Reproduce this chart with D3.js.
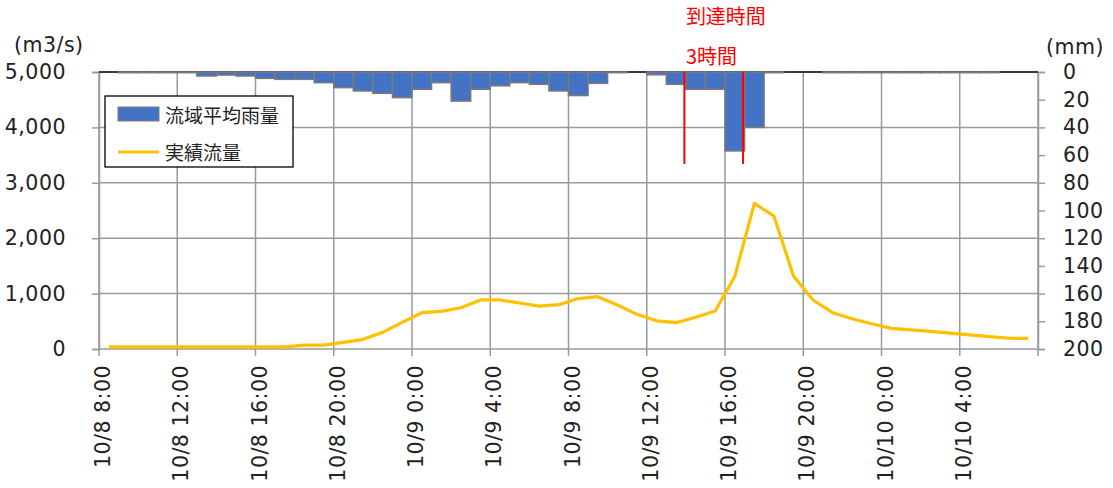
<!DOCTYPE html>
<html><head><meta charset="utf-8">
<script src="https://cdn.jsdelivr.net/npm/d3@7"></script>
<style>
html,body{margin:0;padding:0;background:#fff;}
svg{display:block;}
</style></head>
<body>
<svg id="chart" width="1113" height="488"></svg>
<script>
// ---- data ----
const days = ["10/8","10/8","10/8","10/8","10/8","10/8","10/8","10/8","10/8","10/8","10/8","10/8","10/8","10/8","10/8","10/8",
  "10/9","10/9","10/9","10/9","10/9","10/9","10/9","10/9","10/9","10/9","10/9","10/9","10/9","10/9","10/9","10/9",
  "10/9","10/9","10/9","10/9","10/9","10/9","10/9","10/9","10/10","10/10","10/10","10/10","10/10","10/10","10/10","10/10"];
const hours = [8,9,10,11,12,13,14,15,16,17,18,19,20,21,22,23,0,1,2,3,4,5,6,7,8,9,10,11,12,13,14,15,16,17,18,19,20,21,22,23,0,1,2,3,4,5,6,7];
const categories = days.map((d,i)=> d + " " + hours[i] + ":00");
const rainfall = [0,0.5,0.5,0.5,0.5,2.9,2.2,2.9,4.6,5.3,5.3,7.7,11.3,13.7,15.4,18.5,
  12.5,7.7,21,12.5,10,7.7,8.9,13.7,17,8.2,0.5,0,2,8.9,12.5,12.5,
  57,40,0.5,0,0,0.5,0.5,0.5,0.5,0.5,0.5,0.5,0.5,0.5,0,0];
const flow = [40,40,40,40,40,40,40,40,40,40,70,70,120,175,300,480,
  655,680,745,885,885,830,775,800,910,944,794,626,508,475,572,686,
  1310,2630,2400,1318,885,655,545,455,372,345,318,285,255,225,195,190];
const leftTicks = [0,1000,2000,3000,4000,5000];
const rightTicks = [0,20,40,60,80,100,120,140,160,180,200];
const labelEvery = 4;
const seriesNames = ["流域平均雨量","実績流量"];
const annoTitle = "到達時間";
const annoValue = "3時間";
const annoStart = 30, annoEnd = 33;

// ---- layout ----
const L = 99, R = 1038, T = 72, B = 349;
const svg = d3.select("#chart");
const numFont = "'DejaVu Sans', Verdana, sans-serif";
const jpFont = "'Noto Sans CJK JP', sans-serif";
const numSize = 20.5, numSpacing = 0.5;

const x = d3.scaleBand().domain(categories).range([L, R]).padding(0);
const yL = d3.scaleLinear().domain([0, 5000]).range([B, T]);
const yR = d3.scaleLinear().domain([0, 200]).range([T, B]);
const bw = x.bandwidth();
const edge = i => L + i * bw;

const gridCol = "#9a9a9a";

// horizontal gridlines
svg.append("g").selectAll("line").data(leftTicks.filter(v=>v>0)).join("line")
  .attr("x1", L).attr("x2", R).attr("y1", d=>yL(d)).attr("y2", d=>yL(d))
  .attr("stroke", gridCol).attr("stroke-width", 1.5);

// vertical gridlines at every 4th category boundary
const tickIdx = d3.range(0, categories.length + 1, labelEvery);
svg.append("g").selectAll("line").data(tickIdx).join("line")
  .attr("x1", d=>edge(d)).attr("x2", d=>edge(d)).attr("y1", T).attr("y2", B + 7)
  .attr("stroke", gridCol).attr("stroke-width", 1.5);

// bottom axis line
svg.append("line").attr("x1", L).attr("x2", R).attr("y1", B).attr("y2", B)
  .attr("stroke", gridCol).attr("stroke-width", 1.5);

// left axis
const axL = svg.append("g").attr("transform", `translate(${L},0)`)
  .call(d3.axisLeft(yL).tickValues(leftTicks).tickFormat(d3.format(",")).tickSize(7).tickPadding(26));
axL.select(".domain").attr("stroke", gridCol).attr("stroke-width", 1.5);
axL.selectAll(".tick line").attr("stroke", gridCol).attr("stroke-width", 1.5);
axL.selectAll("text").attr("font-family", numFont).attr("font-size", numSize).attr("letter-spacing", numSpacing).attr("fill", "#222");

// right axis
const axR = svg.append("g").attr("transform", `translate(${R},0)`)
  .call(d3.axisRight(yR).tickValues(rightTicks).tickSize(7).tickPadding(18));
axR.select(".domain").attr("stroke", gridCol).attr("stroke-width", 1.5);
axR.selectAll(".tick line").attr("stroke", gridCol).attr("stroke-width", 1.5);
axR.selectAll("text").attr("font-family", numFont).attr("font-size", numSize).attr("letter-spacing", numSpacing).attr("fill", "#222");

// top category line (secondary axis)
svg.append("line").attr("x1", L).attr("x2", R).attr("y1", T).attr("y2", T)
  .attr("stroke", "#111").attr("stroke-width", 1.5);

// bars (rainfall, hanging from top)
svg.append("g").selectAll("rect").data(categories.map((c,i)=>({c, v: rainfall[i]})).filter(d=>d.v>0)).join("rect")
  .attr("x", d=>x(d.c)).attr("width", bw)
  .attr("y", T).attr("height", d=>yR(d.v) - T)
  .attr("fill", "#4472C4").attr("stroke", "#7a7a7a").attr("stroke-width", 1.5);

// flow line
const line = d3.line().x((d,i)=>x(categories[i]) + bw/2).y(d=>yL(d));
svg.append("path").datum(flow).attr("d", line)
  .attr("fill", "none").attr("stroke", "#FFC000").attr("stroke-width", 3.2)
  .attr("stroke-linejoin", "round");

// x tick labels
svg.append("g").selectAll("text").data(tickIdx.filter(i=>i < categories.length)).join("text")
  .attr("transform", d=>`translate(${edge(d)+4},${B+16}) rotate(-90)`)
  .attr("text-anchor", "end").attr("dominant-baseline", "central")
  .attr("font-family", numFont).attr("font-size", numSize).attr("letter-spacing", numSpacing).attr("fill", "#222")
  .text(d=>categories[d]);

// unit labels
svg.append("text").attr("x", 14).attr("y", 52).attr("font-family", numFont).attr("font-size", numSize).attr("letter-spacing", numSpacing).attr("fill", "#222").text("(m3/s)");
svg.append("text").attr("x", 1046).attr("y", 54).attr("font-family", numFont).attr("font-size", numSize).attr("letter-spacing", numSpacing).attr("fill", "#222").text("(mm)");

// annotation
[annoStart, annoEnd].forEach(i=>{
  svg.append("line").attr("x1", edge(i) - 1.5).attr("x2", edge(i) - 1.5).attr("y1", T).attr("y2", 164)
    .attr("stroke", "#FF0000").attr("stroke-width", 2);
});
svg.append("text").attr("x", edge(annoStart)).attr("y", 24).attr("font-family", jpFont).attr("font-size", 20).attr("fill", "#FF0000").text(annoTitle);
svg.append("text").attr("x", edge(annoStart)).attr("y", 64).attr("font-family", jpFont).attr("font-size", 20).attr("fill", "#FF0000").text(annoValue);

// legend
const lg = svg.append("g");
lg.append("rect").attr("x", 105).attr("y", 96).attr("width", 188).attr("height", 71)
  .attr("fill", "#fff").attr("stroke", "#000").attr("stroke-width", 1.3);
lg.append("rect").attr("x", 118).attr("y", 107).attr("width", 41).attr("height", 14)
  .attr("fill", "#4472C4").attr("stroke", "#7a7a7a").attr("stroke-width", 1);
lg.append("line").attr("x1", 118).attr("x2", 159).attr("y1", 152).attr("y2", 152)
  .attr("stroke", "#FFC000").attr("stroke-width", 3.2);
lg.append("text").attr("x", 165).attr("y", 114).attr("dominant-baseline", "central")
  .attr("font-family", jpFont).attr("font-size", 19).attr("fill", "#222").text(seriesNames[0]);
lg.append("text").attr("x", 165).attr("y", 151).attr("dominant-baseline", "central")
  .attr("font-family", jpFont).attr("font-size", 19).attr("fill", "#222").text(seriesNames[1]);
</script>
</body></html>
